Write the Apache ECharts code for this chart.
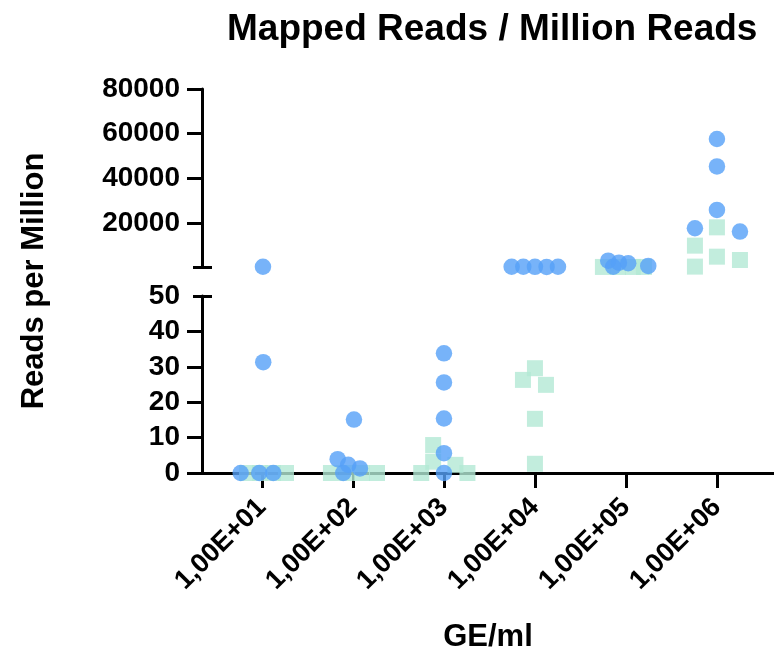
<!DOCTYPE html>
<html>
<head>
<meta charset="utf-8">
<script src="https://cdn.jsdelivr.net/npm/echarts@6/dist/echarts.min.js"></script>
<style>html,body{margin:0;padding:0;background:#fff}#c{width:774px;height:655px}</style>
</head>
<body>
<div id="c"></div>
<script>
// ---- data ----
const categories = ['1,00E+01','1,00E+02','1,00E+03','1,00E+04','1,00E+05','1,00E+06'];
const lowTicks = [0, 10, 20, 30, 40, 50];
const highTicks = [20000, 40000, 60000, 80000];

// circles (blue)
const circleCat    = [0,0,0,0,0, 1,1,1,1,1, 2,2,2,2,2, 3,3,3,3,3, 4,4,4,4,4, 5,5,5,5,5];
const circleValue  = [0,0,0,31.3,350, 3.9,2.3,0,1.3,15.1, 33.8,25.6,15.4,5.6,0,
                      320,350,300,280,340, 3050,350,2150,1900,700, 57600,45300,25800,17600,16100];
const circleSpread = [-0.234,-0.03,0.124,0.014,0.011, -0.168,-0.052,-0.107,0.077,0.011, 0,0,0,0,0,
                      -0.256,-0.128,0,0.128,0.253, -0.195,-0.14,-0.077,0.025,0.245, 0,0,0,-0.242,0.253];

// squares (mint)
const squareCat    = [0,0,0,0, 1,1,1,1, 2,2,2,2,2, 3,3,3,3,3, 4,4,4,4, 5,5,5,5,5];
const squareValue  = [0,0,0,0, 0,0,0,0, 0,7.9,3.2,2.3,0, 26.3,29.6,24.9,15.3,2.6,
                      250,250,250,250, 18000,9800,400,4850,3370];
const squareSpread = [-0.165,-0.022,0.121,0.264, -0.242,-0.066,0.099,0.264,
                      -0.25,-0.119,-0.119,0.126,0.258, -0.132,0,0.121,0,0,
                      -0.253,-0.088,0.077,0.198, 0,-0.242,-0.242,0,0.253];

const LOW_MAX = 50;
function split(cats, vals, spread, upper) {
  const out = [];
  for (let i = 0; i < vals.length; i++) {
    const isUpper = vals[i] > LOW_MAX;
    if (isUpper === upper) out.push([cats[i] + spread[i], vals[i]]);
  }
  return out;
}

const FONT = 'Liberation Sans';
const X_MIN = -0.659, X_MAX = 5.627;
const black = '#000';
const lineStyle = {color: black, width: 3};
const plain = v => String(v);

const chart = echarts.init(document.getElementById('c'), null, {renderer: 'canvas'});
chart.setOption({
  animation: false,
  backgroundColor: '#fff',
  title: {
    text: 'Mapped Reads / Million Reads',
    left: 222, top: 6,
    textStyle: {fontFamily: FONT, fontWeight: 'bold', fontSize: 37, color: black}
  },
  grid: [
    {left: 202, right: 0, top: 89, height: 178.5, outerBoundsMode: 'none'},
    {left: 202, right: 0, top: 296, height: 177, outerBoundsMode: 'none'},
    {left: 202, right: 0, top: 89, height: 384, outerBoundsMode: 'none'}
  ],
  xAxis: [
    {gridIndex: 0, type: 'value', min: X_MIN, max: X_MAX, show: false},
    {gridIndex: 1, type: 'value', min: X_MIN, max: X_MAX,
      axisLine: {show: true, onZero: false, lineStyle: lineStyle},
      axisTick: {show: true, customValues: categories.map((c, i) => i), length: 15, lineStyle: lineStyle},
      axisLabel: {customValues: categories.map((c, i) => i), formatter: v => categories[Math.round(v)],
        rotate: 45, margin: 30, fontFamily: FONT, fontWeight: 'bold', fontSize: 27, color: black},
      splitLine: {show: false},
      name: 'GE/ml', nameLocation: 'middle', nameGap: 149,
      nameTextStyle: {fontFamily: FONT, fontWeight: 'bold', fontSize: 31, color: black}
    },
    {gridIndex: 2, type: 'value', min: 0, max: 1, show: false}
  ],
  yAxis: [
    {gridIndex: 0, type: 'value', position: 'left', min: 0, max: 80000, interval: 20000,
      axisLine: {show: true, onZero: false, lineStyle: lineStyle},
      axisTick: {show: true, customValues: highTicks, length: 15, lineStyle: lineStyle},
      axisLabel: {customValues: highTicks, formatter: plain, margin: 22, fontFamily: FONT, fontWeight: 'bold', fontSize: 28, color: black},
      splitLine: {show: false}
    },
    {gridIndex: 0, type: 'value', position: 'left', min: 0, max: 80000, offset: -10,
      axisLine: {show: false, onZero: false},
      axisTick: {show: true, customValues: [0], length: 19, lineStyle: lineStyle},
      axisLabel: {show: false}, splitLine: {show: false}
    },
    {gridIndex: 1, type: 'value', position: 'left', min: 0, max: 50, interval: 10,
      axisLine: {show: true, onZero: false, lineStyle: lineStyle},
      axisTick: {show: true, customValues: lowTicks.slice(0, -1), length: 15, lineStyle: lineStyle},
      axisLabel: {customValues: lowTicks, formatter: plain, margin: 22, fontFamily: FONT, fontWeight: 'bold', fontSize: 28, color: black},
      splitLine: {show: false}
    },
    {gridIndex: 1, type: 'value', position: 'left', min: 0, max: 50, offset: -10,
      axisLine: {show: false, onZero: false},
      axisTick: {show: true, customValues: [50], length: 19, lineStyle: lineStyle},
      axisLabel: {show: false}, splitLine: {show: false}
    },
    {gridIndex: 2, type: 'value', position: 'left', min: 0, max: 1,
      axisLine: {show: false, onZero: false}, axisTick: {show: false}, axisLabel: {show: false}, splitLine: {show: false},
      name: 'Reads per Million', nameLocation: 'middle', nameGap: 152,
      nameTextStyle: {fontFamily: FONT, fontWeight: 'bold', fontSize: 31, color: black}
    }
  ],
  series: [
    {type: 'scatter', xAxisIndex: 1, yAxisIndex: 2, symbol: 'rect', symbolSize: 16, clip: false,
      itemStyle: {color: '#b3e8d4'}, data: split(squareCat, squareValue, squareSpread, false)},
    {type: 'scatter', xAxisIndex: 0, yAxisIndex: 0, symbol: 'rect', symbolSize: 16, clip: false,
      itemStyle: {color: '#b3e8d4'}, data: split(squareCat, squareValue, squareSpread, true)},
    {type: 'scatter', xAxisIndex: 1, yAxisIndex: 2, symbol: 'circle', symbolSize: 16.5, clip: false,
      itemStyle: {color: '#55a0f8'}, data: split(circleCat, circleValue, circleSpread, false)},
    {type: 'scatter', xAxisIndex: 0, yAxisIndex: 0, symbol: 'circle', symbolSize: 16.5, clip: false,
      itemStyle: {color: '#55a0f8'}, data: split(circleCat, circleValue, circleSpread, true)}
  ]
});
</script>
</body>
</html>
